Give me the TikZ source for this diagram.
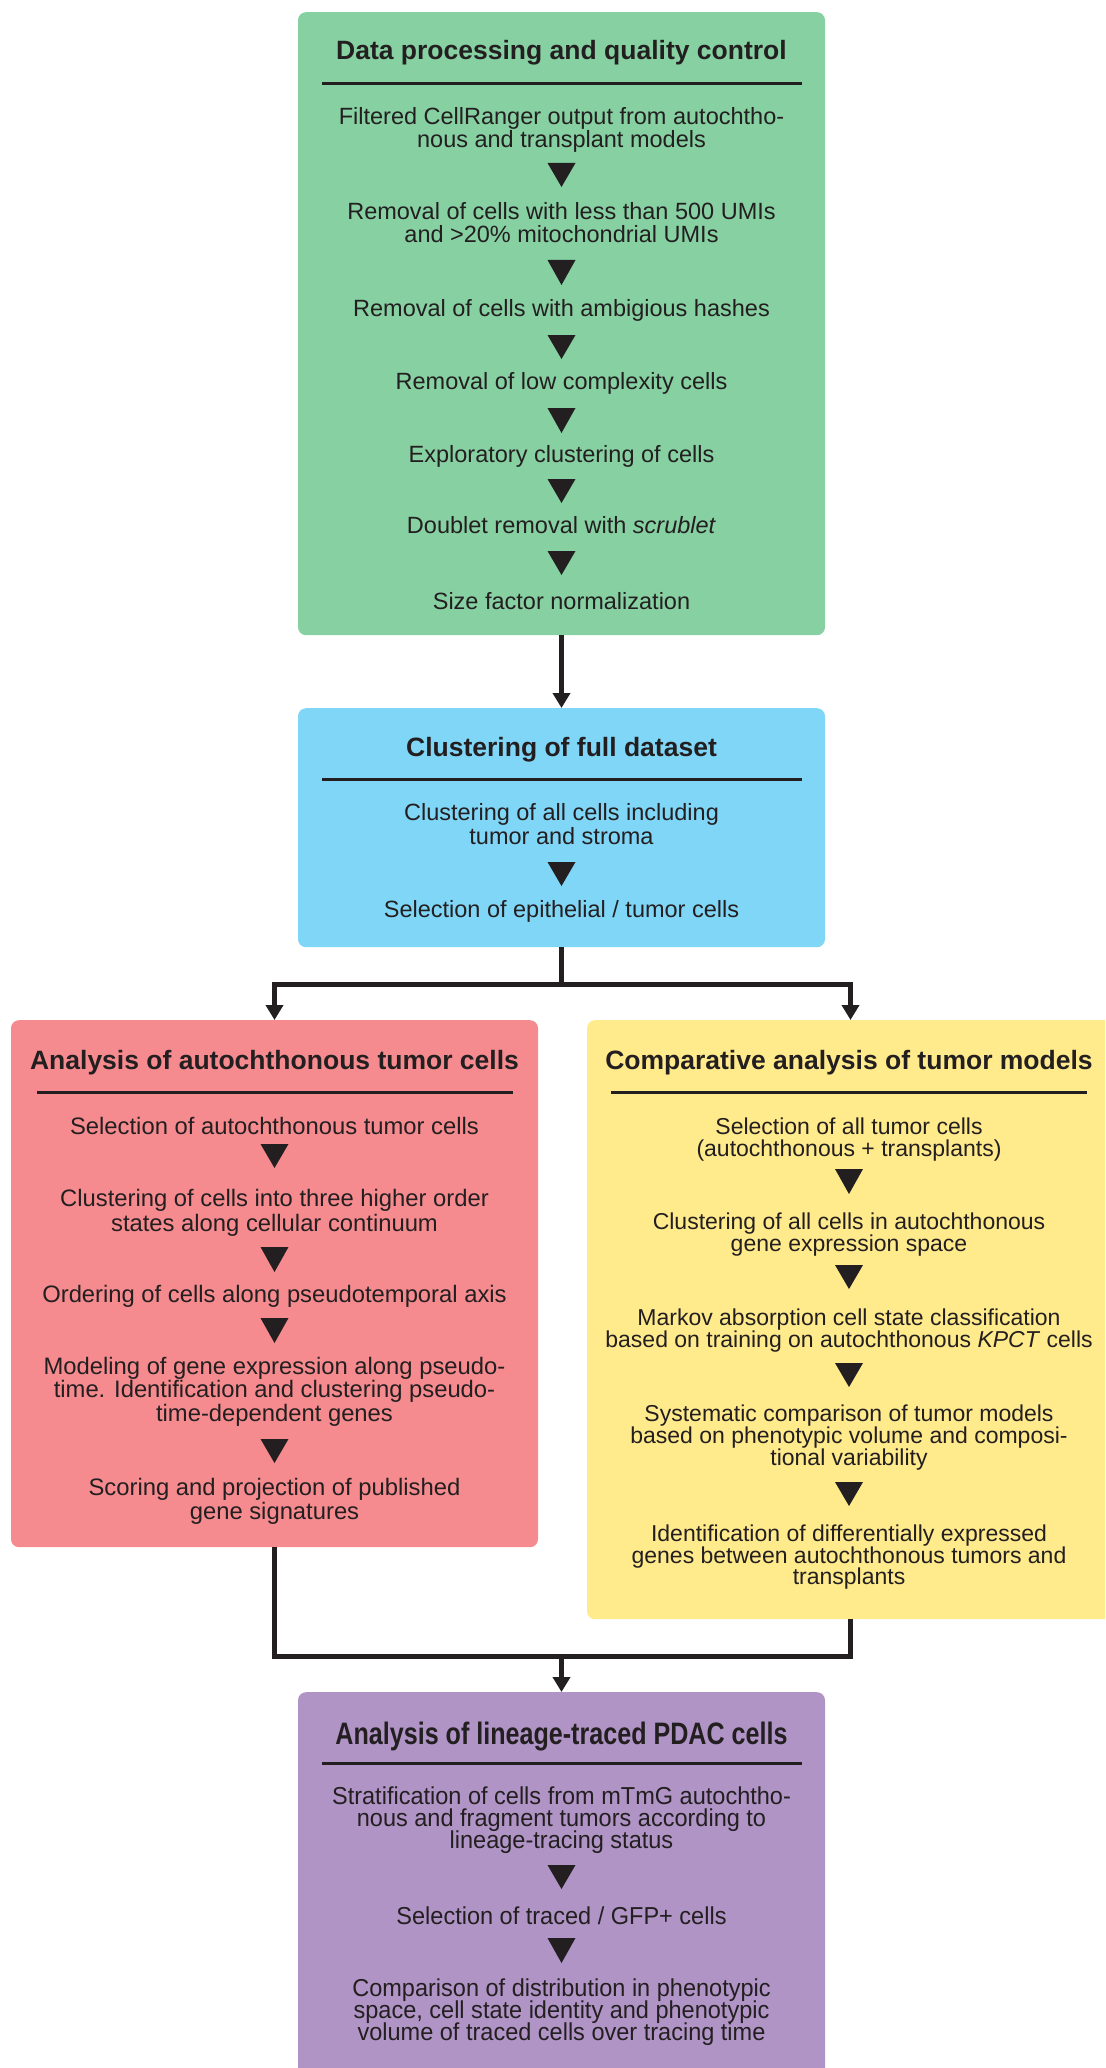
\documentclass[tikz,border=0pt]{standalone}
\usepackage{fontspec}
\setmainfont{Liberation Sans}
\newfontfamily\condtitle[FakeStretch=0.81]{Liberation Sans}
\newfontfamily\condbody[FakeStretch=0.96]{Liberation Sans}
\usetikzlibrary{arrows.meta}
\definecolor{ink}{HTML}{231F20}
\definecolor{cgreen}{HTML}{86D0A2}
\definecolor{cblue}{HTML}{80D6F7}
\definecolor{cred}{HTML}{F58B8F}
\definecolor{cyellow}{HTML}{FFEA8C}
\definecolor{cpurple}{HTML}{B094C6}
\tikzset{
  panel/.style={rectangle, rounded corners=8pt, minimum width=527pt, inner sep=0pt, anchor=north},
  ttl/.style={anchor=base, inner sep=0pt, text=ink, font=\fontsize{26.5}{28}\selectfont\bfseries},
  ctl/.style={anchor=base, inner sep=0pt, text=ink, font=\condtitle\fontsize{31}{32}\selectfont\bfseries},
  txt/.style={anchor=base, inner sep=0pt, text=ink, font=\fontsize{23.5}{24}\selectfont},
  txr/.style={anchor=base, inner sep=0pt, text=ink, font=\fontsize{23.8}{24}\selectfont},
  txs/.style={anchor=base, inner sep=0pt, text=ink, font=\fontsize{23}{24}\selectfont},
  ctx/.style={anchor=base, inner sep=0pt, text=ink, font=\condbody\fontsize{24.5}{24}\selectfont},
  rulel/.style={line width=3pt, draw=ink},
  wire/.style={line width=5pt, draw=ink},
  conn/.style={wire, -{Triangle[width=17pt,length=15pt]}},
}
\newcommand\mkline[5]{\node[#1] (#2) at (#3,#4) {#5};}
\newcommand\steptri[3]{\fill[ink] ({#1-14},#2) -- ({#1+14},#2) -- (#1,#3) -- cycle;}
\begin{document}
\begin{tikzpicture}[x=1pt,y=-1pt]
\useasboundingbox (0,0) rectangle (1105,2068);
\clip (0,0) rectangle (1105,2068);
% panels
\node[panel, fill=cgreen, minimum height=623pt] (green) at (561.5,12) {};
\node[panel, fill=cblue, minimum height=239pt] (blue) at (561.5,708) {};
\node[panel, fill=cred, minimum height=527pt] (red) at (274.5,1020) {};
\node[panel, fill=cyellow, minimum height=599pt] (yellow) at (850.5,1020) {};
\node[panel, fill=cpurple, minimum height=420pt] (purple) at (561.5,1692) {};
% connectors
\coordinate (split) at (561.5,984);
\coordinate (merge) at (561.5,1656);
\draw[conn] (green.south) -- (blue.north);
\draw[wire] (blue.south) -- (split);
\draw[conn] (split) -| (red.north);
\draw[conn] (split) -| (yellow.north);
\draw[wire] (red.south) |- (merge);
\draw[wire] (yellow.south) |- (merge);
\draw[conn] (merge) -- (purple.north);
% green panel
\mkline{ttl}{gt}{561.5}{60}{Data processing and quality control}
\draw[rulel] (322,84) -- (802,84);
\mkline{txt}{g1a}{561.5}{125}{Filtered CellRanger output from autochtho-}
\mkline{txt}{g1b}{561.5}{148}{nous and transplant models}
\steptri{561.5}{163}{187}
\mkline{txt}{g2a}{561.5}{220}{Removal of cells with less than 500 UMIs}
\mkline{txt}{g2b}{561.5}{243}{and >20\% mitochondrial UMIs}
\steptri{561.5}{260}{285}
\mkline{txt}{g3}{561.5}{316}{Removal of cells with ambigious hashes}
\steptri{561.5}{335}{359}
\mkline{txt}{g4}{561.5}{389}{Removal of low complexity cells}
\steptri{561.5}{408}{433}
\mkline{txt}{g5}{561.5}{462}{Exploratory clustering of cells}
\steptri{561.5}{479}{503}
\mkline{txt}{g6}{561.5}{533}{Doublet removal with \textit{scrublet}}
\steptri{561.5}{551}{575}
\mkline{txt}{g7}{561.5}{609}{Size factor normalization}
% blue panel
\mkline{ttl}{bt}{561.5}{756}{Clustering of full dataset}
\draw[rulel] (322,779) -- (802,779);
\mkline{txt}{b1a}{561.5}{820}{Clustering of all cells including}
\mkline{txt}{b1b}{561.5}{844}{tumor and stroma}
\steptri{561.5}{862}{886}
\mkline{txt}{b2}{561.5}{917}{Selection of epithelial / tumor cells}
% red panel
\mkline{ttl}{rt}{274.5}{1069}{Analysis of autochthonous tumor cells}
\draw[rulel] (36.5,1092) -- (512.5,1092);
\mkline{txr}{r1}{274.5}{1134}{Selection of autochthonous tumor cells}
\steptri{274.5}{1144}{1168}
\mkline{txr}{r2a}{274.5}{1206}{Clustering of cells into three higher order}
\mkline{txr}{r2b}{274.5}{1231}{states along cellular continuum}
\steptri{274.5}{1247}{1272}
\mkline{txr}{r3}{274.5}{1302}{Ordering of cells along pseudotemporal axis}
\steptri{274.5}{1318}{1343}
\mkline{txr}{r4a}{274.5}{1374}{Modeling of gene expression along pseudo-}
\mkline{txr}{r4b}{274.5}{1397}{time. Identification and clustering pseudo-}
\mkline{txr}{r4c}{274.5}{1421}{time-dependent genes}
\steptri{274.5}{1439}{1463}
\mkline{txr}{r5a}{274.5}{1495}{Scoring and projection of published}
\mkline{txr}{r5b}{274.5}{1519}{gene signatures}
% yellow panel
\mkline{ttl}{yt}{849}{1069}{Comparative analysis of tumor models}
\draw[rulel] (611,1092) -- (1087,1092);
\mkline{txs}{y1a}{849}{1134}{Selection of all tumor cells}
\mkline{txs}{y1b}{849}{1156}{(autochthonous + transplants)}
\steptri{849}{1169}{1194}
\mkline{txs}{y2a}{849}{1229}{Clustering of all cells in autochthonous}
\mkline{txs}{y2b}{849}{1251}{gene expression space}
\steptri{849}{1265}{1289}
\mkline{txs}{y3a}{849}{1325}{Markov absorption cell state classification}
\mkline{txs}{y3b}{849}{1347}{based on training on autochthonous \textit{KPCT} cells}
\steptri{849}{1363}{1387}
\mkline{txs}{y4a}{849}{1421}{Systematic comparison of tumor models}
\mkline{txs}{y4b}{849}{1443}{based on phenotypic volume and composi-}
\mkline{txs}{y4c}{849}{1465}{tional variability}
\steptri{849}{1482}{1506}
\mkline{txs}{y5a}{849}{1541}{Identification of differentially expressed}
\mkline{txs}{y5b}{849}{1563}{genes between autochthonous tumors and}
\mkline{txs}{y5c}{849}{1584}{transplants}
% purple panel
\mkline{ctl}{pt}{561.5}{1744}{Analysis of lineage-traced PDAC cells}
\draw[rulel] (322,1763) -- (802,1763);
\mkline{ctx}{p1a}{561.5}{1804}{Stratification of cells from mTmG autochtho-}
\mkline{ctx}{p1b}{561.5}{1826}{nous and fragment tumors according to}
\mkline{ctx}{p1c}{561.5}{1848}{lineage-tracing status}
\steptri{561.5}{1865}{1889}
\mkline{ctx}{p2}{561.5}{1924}{Selection of traced / GFP+ cells}
\steptri{561.5}{1938}{1963}
\mkline{ctx}{p3a}{561.5}{1996}{Comparison of distribution in phenotypic}
\mkline{ctx}{p3b}{561.5}{2018}{space, cell state identity and phenotypic}
\mkline{ctx}{p3c}{561.5}{2040}{volume of traced cells over tracing time}
\end{tikzpicture}
\end{document}
